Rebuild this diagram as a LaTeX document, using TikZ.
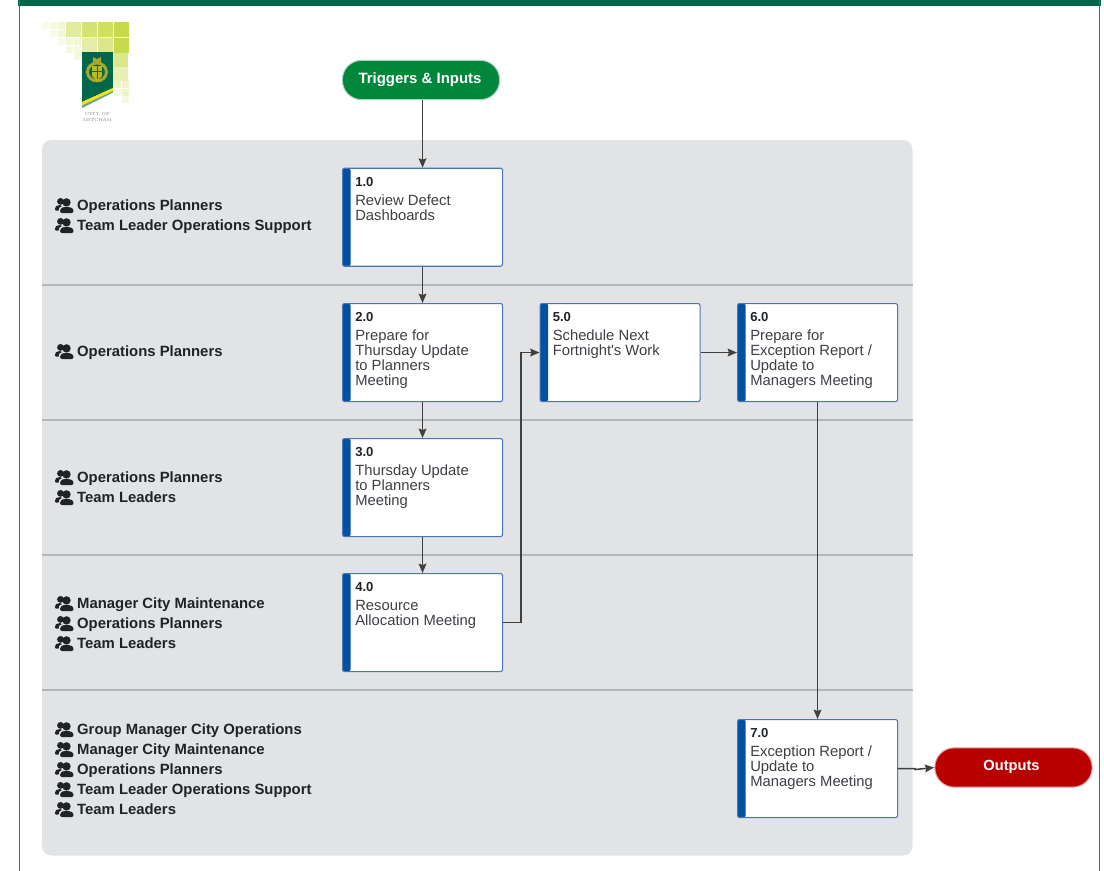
\documentclass[tikz,border=0pt]{standalone}
\usepackage{fontspec}
\usetikzlibrary{arrows.meta}
\setmainfont[Ligatures=TeXOff]{Liberation Sans}
\definecolor{frameGreen}{HTML}{00674A}
\definecolor{sideGreen}{HTML}{1F7D5F}
\definecolor{laneGray}{HTML}{E1E3E5}
\definecolor{laneLine}{HTML}{B4B6B8}
\definecolor{boxBlue}{HTML}{4A76B5}
\definecolor{barBlue}{HTML}{0050A4}
\definecolor{startGreen}{HTML}{00873C}
\definecolor{endRed}{HTML}{B90000}
\definecolor{inkDark}{HTML}{1F2328}
\definecolor{inkBody}{HTML}{3C3F44}
\definecolor{arrowGray}{HTML}{404040}
\definecolor{tileGreen}{HTML}{BCD52B}
\definecolor{crestGold}{HTML}{A8A82A}
\tikzset{
  stepbox/.style={draw=boxBlue, fill=white, line width=0.8pt, rounded corners=1.5pt, minimum width=120pt, minimum height=73.5pt, inner sep=0pt, anchor=north west,
    path picture={\fill[barBlue] (path picture bounding box.north west) rectangle ([xshift=6pt]path picture bounding box.south west);}},
  steptext/.style={anchor=north west, align=left, inner sep=0pt, text=inkBody, font=\fontsize{11.1}{11.25}\selectfont},
  stepnum/.style={anchor=north west, inner sep=0pt, text=inkDark, font=\fontsize{9.8}{11.25}\selectfont\bfseries},
  pill/.style={draw=#1!35!white, fill=#1, line width=0.8pt, rounded corners=14.5pt, minimum width=118pt, minimum height=29.5pt, inner sep=0pt},
  pilltext/.style={inner sep=0pt, anchor=base, text=white, font=\fontsize{#1}{13}\selectfont\bfseries},
  actor/.style={anchor=base west, inner sep=0pt, text=inkDark, font=\fontsize{11.15}{13}\selectfont\bfseries},
  link/.style={draw=arrowGray, line width=1.15pt, -{Stealth[length=7pt,width=5.8pt,inset=1pt]}},
  people/.pic={
    \fill[inkDark] (5.5,-3.6) circle (3.4);
    \fill[inkDark] (0,4.6) .. controls (0,1.2) and (2,0) .. (5,0) .. controls (6,0) and (6.5,0.4) .. (7,1) .. controls (4,2.5) and (3.5,3.5) .. (3.6,5.5) -- (1,5.5) .. controls (0.3,5.5) and (0,5.2) .. (0,4.6) -- cycle;
    \fill[inkDark] (11.5,-2.6) circle (4.2);
    \fill[inkDark] (5,5.6) .. controls (5,3) and (7.5,2) .. (11.5,2) .. controls (15.5,2) and (18.5,3) .. (18.5,6) .. controls (18.5,7.4) and (17.5,8) .. (16.5,8) -- (7,8) .. controls (6,8) and (5,7.2) .. (5,5.6) -- cycle;
  }
}
\newcommand{\stepnode}[5]{
  \node[stepbox] (#1) at (#2,#3) {};
  \node[stepnum] (#1num) at (#2+13,#3+9) {#4};
  \node[steptext] (#1text) at (#2+13,#3+26.7) {#5};
}
\begin{document}
\begin{tikzpicture}[x=0.75pt,y=-0.75pt]
\useasboundingbox (0,0) rectangle (1104,871);

% page frame
\fill[frameGreen] (18,0) rectangle (1101,5.5);
\draw[sideGreen, line width=1.3pt] (19.5,0) -- (19.5,871);
\draw[sideGreen, line width=1.3pt] (1099.5,0) -- (1099.5,871);

% logo
\foreach \x/\y/\s/\o in {114/22/15/85,98/22/15/75,82/22/15/65,66/22/15/45,114/38/15/85,98/38/15/55,82/38/15/40,114/53/14/55,114/67/14/35,
  42/22/7/10,50/22/7/15,58/22/7/20,50/30/7/10,58/30/7/20,58/38/7/10,66/38/7/20,74/38/7/20,66/46/7/15,74/46/7/15,74/53/7/15,
  114/81/7/25,122/81/7/25,114/89/7/15,122/89/7/25,122/96/7/15}
  \fill[tileGreen, opacity=\o/100] (\x,\y) rectangle ++(\s,\s);
\fill[frameGreen] (82,52) -- (113,52) -- (113,88) -- (82,102) -- cycle;
\fill[yellow!85!orange] (82,102) -- (113,88) -- (113,91) -- (82,105.5) -- cycle;
\fill[frameGreen!60!white] (82,105.5) -- (113,91) -- (113,92.5) -- (82,108) -- cycle;
\draw[crestGold, line width=2.2pt] (97,72) ellipse (9.5 and 9);
\fill[crestGold!80!yellow] (92,66) rectangle (102,76);
\fill[crestGold!80!yellow] (92,76) -- (102,76) -- (97,81) -- cycle;
\fill[crestGold] (93,62) -- (93,57) -- (97,59) -- (101,57) -- (101,62) -- cycle;
\draw[frameGreen, line width=0.5pt] (97,66) -- (97,79) (92,71) -- (102,71);
\node[inner sep=0pt, text=gray, font=\fontfamily{lmr}\fontsize{3.2}{4}\selectfont, align=center] (logotext) at (97.5,117) {CITY OF\\[0pt]MITCHAM};

% lanes
\fill[laneGray, rounded corners=7pt] (42,140) rectangle (912.5,855.5);
\foreach \y in {285,420,555,690}
  \draw[laneLine, line width=0.8pt] (42,\y) -- (912.5,\y);

% people in each lane
\foreach \y/\who [count=\i] in {205/Operations Planners,225/Team Leader Operations Support,351/Operations Planners,477/Operations Planners,497/Team Leaders,603/Manager City Maintenance,623/Operations Planners,643/Team Leaders,729/Group Manager City Operations,749/Manager City Maintenance,769/Operations Planners,789/Team Leader Operations Support,809/Team Leaders}{
  \pic at (55,\y) {people};
  \node[actor] (actor\i) at (76.9,\y+5) {\who};
}

% start and end
\node[pill=startGreen] (start) at (421,80) {};
\node[pilltext=11.2] (starttext) at (420,83) {Triggers \& Inputs};
\node[pill=endRed] (end) at (1013.5,767.5) {};
\node[pilltext=11] (endtext) at (1011.5,770.5) {Outputs};

% steps
\stepnode{one}{342}{167.7}{1.0}{Review Defect\\Dashboards}
\stepnode{two}{342}{303}{2.0}{Prepare for\\Thursday Update\\to Planners\\Meeting}
\stepnode{three}{342}{438}{3.0}{Thursday Update\\to Planners\\Meeting}
\stepnode{four}{342}{573}{4.0}{Resource\\Allocation Meeting}
\stepnode{five}{539.5}{303}{5.0}{Schedule Next\\Fortnight's Work}
\stepnode{six}{737}{303}{6.0}{Prepare for\\Exception Report /\\Update to\\Managers Meeting}
\stepnode{seven}{737}{719}{7.0}{Exception Report /\\Update to\\Managers Meeting}

% links
\draw[link] (start.south -| one.north) -- (one.north);
\draw[link] (one) -- (two);
\draw[link] (two) -- (three);
\draw[link] (three) -- (four);
\draw[link] (four.east) -- ++(18,0) |- (five.west);
\draw[link] (five) -- (six);
\draw[link] (six) -- (seven);
\draw[link] (seven.east) -- ++(17,0) -- ++(0,1) -- (end.west);
\end{tikzpicture}
\end{document}
